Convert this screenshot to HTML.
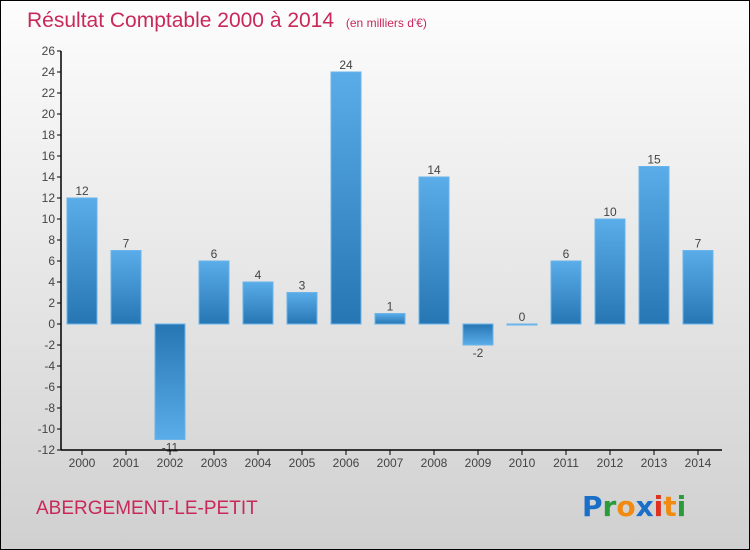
<!DOCTYPE html>
<html><head><meta charset="utf-8"><style>
body{margin:0}
#c{width:748px;height:548px;border:1px solid #000;position:relative;background:linear-gradient(#fdfdfd,#d0d0d0);font-family:"Liberation Sans",sans-serif;overflow:hidden}
</style></head><body>
<div id="c">
<svg width="748" height="548" viewBox="1 1 748 548">
<defs>
<linearGradient id="gp" x1="0" y1="0" x2="0" y2="1"><stop offset="0" stop-color="#5aade8"/><stop offset="1" stop-color="#2776b4"/></linearGradient>
<linearGradient id="gn" x1="0" y1="0" x2="0" y2="1"><stop offset="0" stop-color="#2776b4"/><stop offset="1" stop-color="#5aade8"/></linearGradient>
</defs>
<text x="27" y="27" font-size="21" fill="#c8285a">Résultat Comptable 2000 à 2014 <tspan font-size="12" dx="6">(en milliers d'€)</tspan></text>
<g id="plot"></g>
<text x="36" y="514" font-size="19" fill="#c8285a">ABERGEMENT-LE-PETIT</text>
<g font-size="28" font-weight="bold" font-family="'DejaVu Sans',sans-serif">
<text x="582" y="516"><tspan fill="#1a6fc8">P</tspan><tspan fill="#2a9a3a">r</tspan><tspan fill="#f08a10">o</tspan><tspan fill="#1a6fc8">x</tspan><tspan fill="#e03020">i</tspan><tspan fill="#f08a10">t</tspan><tspan fill="#2a9a3a">i</tspan></text>
</g>
</svg>
</div>
<script>
const years=["2000","2001","2002","2003","2004","2005","2006","2007","2008","2009","2010","2011","2012","2013","2014"];
const values=[12,7,-11,6,4,3,24,1,14,-2,0,6,10,15,7];
const yTicks=[26,24,22,20,18,16,14,12,10,8,6,4,2,0,-2,-4,-6,-8,-10,-12];
const NS="http://www.w3.org/2000/svg";
const g=document.getElementById('plot');
const y=v=>324-v*10.5;
const x=i=>82+i*44;
function mk(t,a){const e=document.createElementNS(NS,t);for(const k in a)e.setAttribute(k,a[k]);g.appendChild(e);return e;}
yTicks.forEach(v=>{
 const l=mk('line',{x1:57,x2:61,y1:y(v),y2:y(v),stroke:'#000'});
 
 
 const t=mk('text',{x:55,y:y(v)+4,'text-anchor':'end','font-size':12,fill:'#444'});
 t.textContent=v;
 
 
});
values.forEach((v,i)=>{
 const top=v>=0?y(v):y(0);const h=Math.max(Math.abs(v)*10.5,1);
 const r=mk('rect',{x:x(i)-15,y:top,width:30,height:h,fill:v>=0?'url(#gp)':'url(#gn)',stroke:'#6ab4ea','stroke-width':1});
 
 
 const t=mk('text',{x:x(i),y:v>=0?y(v)-3:y(v)+12,'text-anchor':'middle','font-size':12,fill:'#444'});
 t.textContent=v;
 
 
 const k=mk('line',{x1:x(i),x2:x(i),y1:450,y2:455,stroke:'#000'});
 
 
 const xl=mk('text',{x:x(i),y:467,'text-anchor':'middle','font-size':12,fill:'#444'});
 xl.textContent=years[i];
 
 
});
const ya=mk('line',{x1:61,x2:61,y1:y(26),y2:450,stroke:'#000','stroke-width':1.5});


const xa=mk('line',{x1:61,x2:722,y1:450,y2:450,stroke:'#000','stroke-width':1.5});


</script>
</body></html>
